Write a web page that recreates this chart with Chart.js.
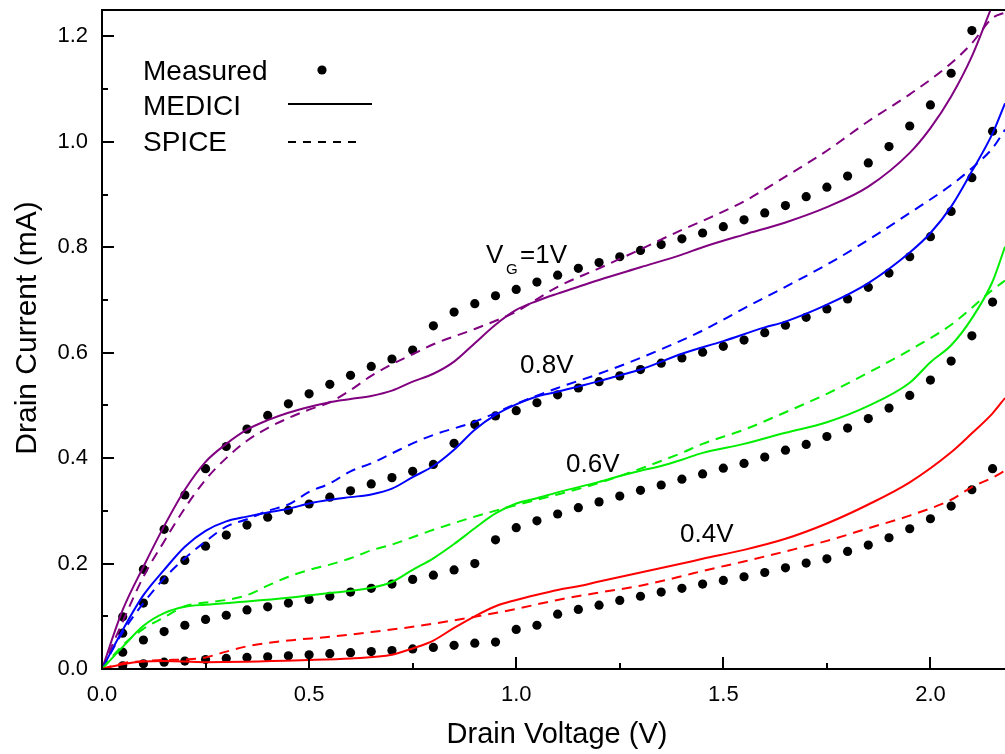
<!DOCTYPE html>
<html>
<head>
<meta charset="utf-8">
<script src="https://cdn.jsdelivr.net/npm/chart.js@4.4.1/dist/chart.umd.min.js"></script>
<style>
html,body{margin:0;padding:0;background:#fff;overflow:hidden;}
#wrap{width:1005px;height:754px;position:relative;}
canvas{display:block;}
</style>
</head>
<body>
<div id="wrap"><canvas id="c"></canvas></div>
<script>
// ---- Data ----
const measuredX = [0.05,0.10,0.15,0.20,0.25,0.30,0.35,0.40,0.45,0.50,0.55,0.60,0.65,0.70,0.75,0.80,0.85,0.90,0.95,1.00,1.05,1.10,1.15,1.20,1.25,1.30,1.35,1.40,1.45,1.50,1.55,1.60,1.65,1.70,1.75,1.80,1.85,1.90,1.95,2.00,2.05,2.10,2.15];
const measured04 = [0.006,0.010,0.013,0.015,0.018,0.020,0.022,0.023,0.025,0.027,0.029,0.031,0.033,0.035,0.038,0.041,0.045,0.049,0.051,0.075,0.083,0.104,0.113,0.121,0.130,0.138,0.146,0.153,0.161,0.168,0.175,0.183,0.192,0.201,0.209,0.223,0.235,0.249,0.266,0.285,0.309,0.340,0.380];
const measured06 = [0.032,0.055,0.071,0.083,0.094,0.102,0.112,0.118,0.125,0.132,0.138,0.146,0.153,0.161,0.170,0.178,0.188,0.200,0.245,0.268,0.281,0.294,0.306,0.317,0.328,0.339,0.349,0.360,0.370,0.381,0.390,0.402,0.415,0.426,0.441,0.457,0.475,0.495,0.519,0.548,0.584,0.632,0.696];
const measured08 = [0.068,0.125,0.169,0.206,0.233,0.254,0.273,0.288,0.301,0.313,0.326,0.338,0.351,0.363,0.375,0.388,0.428,0.464,0.480,0.490,0.505,0.520,0.533,0.545,0.556,0.568,0.580,0.590,0.601,0.612,0.624,0.638,0.652,0.667,0.683,0.702,0.724,0.751,0.782,0.820,0.868,0.932,1.020];
const measured10 = [0.099,0.189,0.265,0.330,0.380,0.422,0.455,0.481,0.503,0.522,0.540,0.557,0.574,0.588,0.605,0.651,0.677,0.693,0.708,0.720,0.734,0.747,0.760,0.771,0.782,0.794,0.805,0.816,0.827,0.839,0.852,0.865,0.879,0.896,0.914,0.935,0.960,0.991,1.030,1.070,1.130,1.211,null];

const medici04X = [0,0.05,0.1,0.15,0.25,0.5,0.6,0.7,0.75,0.8,0.85,0.9,0.95,1.0,1.05,1.1,1.15,1.2,1.3,1.4,1.45,1.55,1.65,1.75,1.85,1.95,2.05,2.1,2.15,2.18];
const medici04Y = [0,0.009,0.014,0.015,0.013,0.017,0.020,0.027,0.039,0.054,0.078,0.100,0.119,0.131,0.141,0.150,0.157,0.166,0.183,0.200,0.209,0.226,0.247,0.276,0.312,0.354,0.411,0.447,0.485,0.514];
const medici06X = [0,0.05,0.1,0.15,0.2,0.25,0.35,0.45,0.55,0.65,0.7,0.75,0.8,0.85,0.9,0.95,1.0,1.05,1.1,1.15,1.2,1.25,1.3,1.35,1.4,1.45,1.55,1.65,1.75,1.85,1.95,2.0,2.05,2.1,2.15,2.18];
const medici06Y = [0,0.042,0.082,0.106,0.118,0.122,0.128,0.135,0.144,0.154,0.165,0.188,0.210,0.237,0.267,0.295,0.314,0.324,0.335,0.345,0.355,0.366,0.376,0.385,0.397,0.410,0.427,0.448,0.468,0.499,0.543,0.582,0.614,0.665,0.735,0.801];
const medici08X = [0,0.05,0.1,0.15,0.2,0.25,0.3,0.35,0.4,0.45,0.5,0.55,0.6,0.65,0.7,0.75,0.8,0.85,0.9,0.95,1.0,1.05,1.1,1.15,1.2,1.25,1.3,1.4,1.5,1.6,1.65,1.75,1.85,1.95,2.0,2.05,2.1,2.15,2.18];
const medici08Y = [0,0.074,0.140,0.188,0.232,0.262,0.280,0.289,0.297,0.304,0.314,0.321,0.326,0.331,0.342,0.364,0.385,0.416,0.454,0.482,0.502,0.517,0.526,0.536,0.546,0.557,0.568,0.598,0.622,0.648,0.659,0.691,0.732,0.790,0.827,0.877,0.944,1.016,1.073];
const medici10X = [0,0.05,0.1,0.15,0.2,0.25,0.3,0.35,0.4,0.45,0.5,0.55,0.6,0.65,0.7,0.75,0.8,0.85,0.9,0.95,1.0,1.05,1.1,1.15,1.2,1.3,1.4,1.45,1.55,1.65,1.75,1.85,1.95,2.0,2.05,2.1,2.145];
const medici10Y = [0,0.112,0.194,0.271,0.340,0.393,0.427,0.454,0.472,0.486,0.497,0.506,0.512,0.518,0.528,0.545,0.560,0.583,0.618,0.653,0.681,0.698,0.712,0.725,0.738,0.762,0.786,0.800,0.824,0.847,0.876,0.915,0.979,1.026,1.086,1.162,1.250];

const spice04X = [0,0.05,0.1,0.15,0.2,0.25,0.3,0.35,0.45,0.55,0.65,0.75,0.8,0.9,1.0,1.1,1.2,1.3,1.4,1.45,1.55,1.65,1.75,1.85,1.95,2.05,2.1,2.15,2.18];
const spice04Y = [0,0.011,0.015,0.017,0.018,0.022,0.033,0.043,0.054,0.061,0.070,0.080,0.086,0.099,0.114,0.131,0.145,0.158,0.176,0.186,0.204,0.223,0.243,0.267,0.291,0.321,0.345,0.363,0.376];
const spice06X = [0,0.05,0.1,0.15,0.2,0.25,0.3,0.35,0.4,0.45,0.5,0.55,0.6,0.65,0.7,0.75,0.8,0.9,1.0,1.1,1.2,1.3,1.4,1.45,1.55,1.65,1.75,1.85,1.95,2.05,2.15,2.18];
const spice06Y = [0,0.045,0.076,0.098,0.119,0.126,0.131,0.140,0.158,0.175,0.188,0.198,0.210,0.225,0.236,0.250,0.264,0.289,0.311,0.331,0.353,0.380,0.410,0.427,0.454,0.487,0.522,0.562,0.605,0.653,0.719,0.737];
const spice08X = [0,0.05,0.1,0.15,0.2,0.25,0.3,0.35,0.4,0.45,0.5,0.55,0.6,0.65,0.7,0.75,0.8,0.9,1.0,1.1,1.2,1.3,1.45,1.55,1.65,1.75,1.85,1.95,2.05,2.1,2.15,2.18];
const spice08Y = [0,0.070,0.125,0.172,0.210,0.242,0.270,0.284,0.300,0.312,0.336,0.352,0.375,0.390,0.409,0.428,0.444,0.469,0.503,0.533,0.560,0.590,0.642,0.684,0.725,0.767,0.814,0.865,0.918,0.950,0.988,1.023];
const spice10X = [0,0.05,0.1,0.15,0.2,0.25,0.3,0.35,0.4,0.45,0.5,0.55,0.6,0.65,0.7,0.75,0.8,0.9,1.0,1.1,1.2,1.3,1.4,1.45,1.55,1.65,1.75,1.85,1.95,2.05,2.1,2.15,2.18];
const spice10Y = [0,0.090,0.175,0.242,0.305,0.359,0.400,0.433,0.457,0.476,0.492,0.506,0.529,0.556,0.578,0.597,0.616,0.645,0.678,0.725,0.760,0.796,0.833,0.850,0.887,0.934,0.983,1.039,1.090,1.149,1.187,1.235,1.245];

const gateLabels = ['V', 'G', '=1V', '0.8V', '0.6V', '0.4V'];
const legendLabels = ['Measured', 'MEDICI', 'SPICE'];
const xTitle = 'Drain Voltage (V)';
const yTitle = 'Drain Current (mA)';

const colors = {v04:'#ff0000', v06:'#00ee00', v08:'#0000ff', v10:'#800080'};
const FONT = '"Liberation Sans", Arial, Helvetica, sans-serif';

function pts(xs, ys){ const out=[]; for(let i=0;i<xs.length;i++){ if(ys[i]!==null) out.push({x:xs[i], y:ys[i]}); } return out; }

function lineDs(label, xs, ys, color, dashed){
  return {label, data: pts(xs, ys), showLine:true, borderColor:color, backgroundColor:color,
    borderWidth:2, pointRadius:0, pointHoverRadius:0, borderDash: dashed?[10,7]:[],
    cubicInterpolationMode:'monotone', tension:0.4, fill:false};
}
function dotDs(label, ys){
  return {label, data: pts(measuredX, ys), showLine:false, pointRadius:4.6, pointBackgroundColor:'#000',
    pointBorderWidth:0, pointBorderColor:'#000', pointStyle:'circle'};
}

const datasets = [
  lineDs('SPICE 0.4', spice04X, spice04Y, colors.v04, true),
  lineDs('SPICE 0.6', spice06X, spice06Y, colors.v06, true),
  lineDs('SPICE 0.8', spice08X, spice08Y, colors.v08, true),
  lineDs('SPICE 1.0', spice10X, spice10Y, colors.v10, true),
  lineDs('MEDICI 0.4', medici04X, medici04Y, colors.v04, false),
  lineDs('MEDICI 0.6', medici06X, medici06Y, colors.v06, false),
  lineDs('MEDICI 0.8', medici08X, medici08Y, colors.v08, false),
  lineDs('MEDICI 1.0', medici10X, medici10Y, colors.v10, false),
  dotDs('Measured 0.4', measured04),
  dotDs('Measured 0.6', measured06),
  dotDs('Measured 0.8', measured08),
  dotDs('Measured 1.0', measured10)
];

const decor = {
  id:'decor',
  afterDraw(chart){
    const {ctx, chartArea:a, scales:{x, y}} = chart;
    ctx.save();
    ctx.strokeStyle = '#000'; ctx.lineWidth = 2; ctx.setLineDash([]);
    // top frame line
    ctx.beginPath(); ctx.moveTo(a.left-1, a.top); ctx.lineTo(a.right+2, a.top); ctx.stroke();
    // inward ticks on x
    x.ticks.forEach(t => {
      const px = Math.round(x.getPixelForValue(t.value));
      const major = Math.abs(t.value*2 - Math.round(t.value*2)) < 1e-6;
      const len = major ? 12 : 6;
      ctx.beginPath(); ctx.moveTo(px, a.bottom); ctx.lineTo(px, a.bottom - len); ctx.stroke();
    });
    y.ticks.forEach(t => {
      const py = Math.round(y.getPixelForValue(t.value));
      const major = Math.abs(t.value*5 - Math.round(t.value*5)) < 1e-6;
      const len = major ? 12 : 6;
      ctx.beginPath(); ctx.moveTo(a.left, py); ctx.lineTo(a.left + len, py); ctx.stroke();
    });
    ctx.fillStyle = '#000';
    // axis titles
    ctx.font = '29px ' + FONT;
    ctx.textAlign = 'center'; ctx.textBaseline = 'middle';
    ctx.fillText(xTitle, 557, 735);
    ctx.save();
    ctx.translate(28, 328);
    ctx.rotate(-Math.PI/2);
    ctx.font = '30px ' + FONT;
    ctx.fillText(yTitle, 0, 0);
    ctx.restore();
    // legend
    ctx.font = '28px ' + FONT;
    ctx.textBaseline = 'alphabetic'; ctx.textAlign = 'left';
    ctx.fillText(legendLabels[0], 143, 80);
    ctx.fillText(legendLabels[1], 143, 115);
    ctx.fillText(legendLabels[2], 143, 151);
    ctx.beginPath(); ctx.arc(322, 70, 4.6, 0, Math.PI*2); ctx.fill();
    ctx.beginPath(); ctx.moveTo(288, 104); ctx.lineTo(372, 104); ctx.stroke();
    ctx.setLineDash([8,7]);
    ctx.beginPath(); ctx.moveTo(288, 142); ctx.lineTo(362, 142); ctx.stroke();
    ctx.setLineDash([]);
    // curve labels
    ctx.font = '26px ' + FONT;
    ctx.fillText(gateLabels[0], 486, 263);
    ctx.font = '15px ' + FONT;
    ctx.fillText(gateLabels[1], 506, 274);
    ctx.font = '26px ' + FONT;
    ctx.fillText(gateLabels[2], 520, 263);
    ctx.fillText(gateLabels[3], 520, 373);
    ctx.fillText(gateLabels[4], 566, 472);
    ctx.fillText(gateLabels[5], 680, 542);
    ctx.restore();
  }
};

new Chart(document.getElementById('c'), {
  type:'scatter',
  data:{datasets},
  options:{
    responsive:true, maintainAspectRatio:false, animation:false,
    layout:{autoPadding:false, padding:{top:10, right:0, left:0, bottom:0}},
    plugins:{legend:{display:false}, tooltip:{enabled:false}},
    scales:{
      x:{type:'linear', min:0, max:2.18,
        afterFit(s){ s.height = 85; s.paddingLeft = 0; s.paddingRight = 0; },
        grid:{display:false, drawTicks:false},
        border:{display:true, color:'#000', width:2},
        ticks:{stepSize:0.25, includeBounds:false, autoSkip:false, maxRotation:0, padding:13,
          color:'#000', font:{family:FONT, size:22},
          callback:(v)=> (Math.abs(v*2-Math.round(v*2))<1e-6) ? v.toFixed(1) : ''},
        title:{display:false}
      },
      y:{type:'linear', min:0, max:1.25,
        afterFit(s){ s.width = 102; s.paddingTop = 0; s.paddingBottom = 0; },
        grid:{display:false, drawTicks:false},
        border:{display:true, color:'#000', width:2},
        ticks:{stepSize:0.1, includeBounds:false, autoSkip:false, padding:14,
          color:'#000', font:{family:FONT, size:22},
          callback:(v)=> (Math.abs(v*5-Math.round(v*5))<1e-6) ? v.toFixed(1) : ''},
        title:{display:false}
      }
    }
  },
  plugins:[decor]
});
</script>
</body>
</html>
